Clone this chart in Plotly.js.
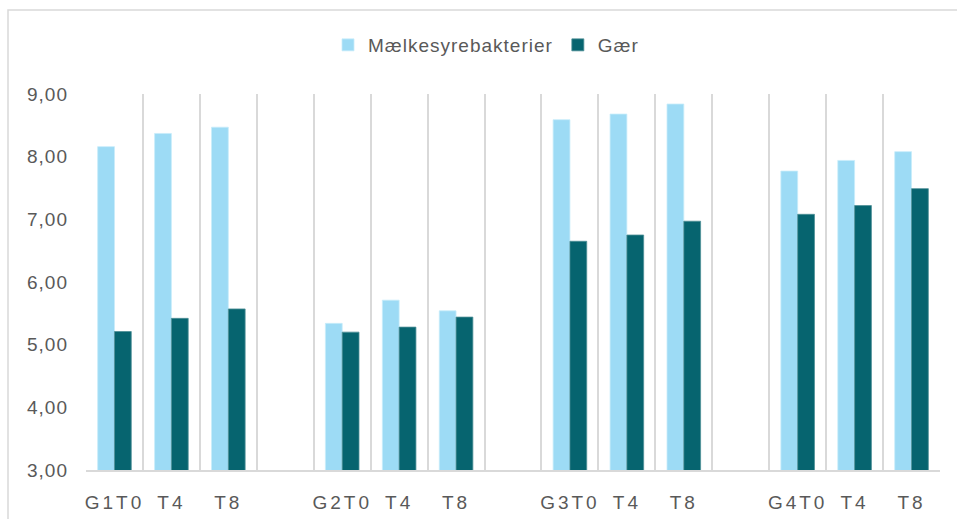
<!DOCTYPE html>
<html>
<head>
<meta charset="utf-8">
<script src="https://cdn.plot.ly/plotly-3.0.1.min.js"></script>
<style>
html,body{margin:0;padding:0;background:#fff;}
#chart{width:957px;height:519px;}
.xtick text{letter-spacing:3px;}
.ytick text{letter-spacing:1px;}
text.legendtext{letter-spacing:1px;}
</style>
</head>
<body>
<div id="chart"></div>
<script>
const categories = ["G1T0","G1T4","G1T8","gap1","G2T0","G2T4","G2T8","gap2","G3T0","G3T4","G3T8","gap3","G4T0","G4T4","G4T8"];
const tickLabels = ["G1T0","T4","T8","","G2T0","T4","T8","","G3T0","T4","T8","","G4T0","T4","T8"];
const maelkesyre = [8.16,8.37,8.47,null,5.34,5.71,5.54,null,8.59,8.68,8.84,null,7.77,7.94,8.08];
const gaer =       [5.21,5.42,5.57,null,5.20,5.28,5.44,null,6.65,6.75,6.97,null,7.08,7.22,7.49];
const seriesNames = ["Mælkesyrebakterier","Gær"];

const traces = [
  {type:"bar", name:seriesNames[0], x:categories, y:maelkesyre,
   marker:{color:"#9DDBF5", line:{color:"#C8ECFA", width:0.8}}},
  {type:"bar", name:seriesNames[1], x:categories, y:gaer,
   marker:{color:"#06646F", line:{color:"#4E8F97", width:0.8}}}
];

const L = 86, R = 940, T = 94, B = 470;
const pw = R - L, ph = B - T;
const px = v => (v - L) / pw;
const py = v => (B - v) / ph;

const layout = {
  width:957, height:519,
  margin:{l:L, r:957-R, t:T, b:519-B, autoexpand:false},
  paper_bgcolor:"#fff", plot_bgcolor:"#fff",
  separators:",.",
  font:{family:"Liberation Sans, Arial, sans-serif", color:"#595959", size:19},
  barmode:"group", bargap:0.41, bargroupgap:0,
  showlegend:true,
  legend:{orientation:"h", x:px(486), xanchor:"center", y:py(45), yanchor:"middle",
          bgcolor:"rgba(0,0,0,0)", font:{size:19, color:"#595959"}, itemwidth:20,
          traceorder:"normal"},
  xaxis:{type:"category", categoryorder:"array", categoryarray:categories,
         tickvals:categories, ticktext:tickLabels, tickson:"boundaries",
         showgrid:true, gridcolor:"#D9D9D9", gridwidth:2,
         showline:true, linecolor:"#D9D9D9", linewidth:2,
         ticks:"", ticklabelstandoff:14, tickfont:{size:19, color:"#595959"}, fixedrange:true},
  yaxis:{range:[3,9], dtick:1, tickformat:".2f", showgrid:false, zeroline:false,
         showline:false, ticks:"", ticklabelstandoff:17,
         tickfont:{size:19, color:"#595959"}, fixedrange:true},
  shapes:[{type:"rect", xref:"paper", yref:"paper",
           x0:px(8), x1:px(970), y0:py(530), y1:py(10),
           line:{color:"#D9D9D9", width:1.5}, fillcolor:"rgba(0,0,0,0)", layer:"below"}]
};

Plotly.newPlot("chart", traces, layout, {displayModeBar:false, staticPlot:true});
</script>
</body>
</html>
